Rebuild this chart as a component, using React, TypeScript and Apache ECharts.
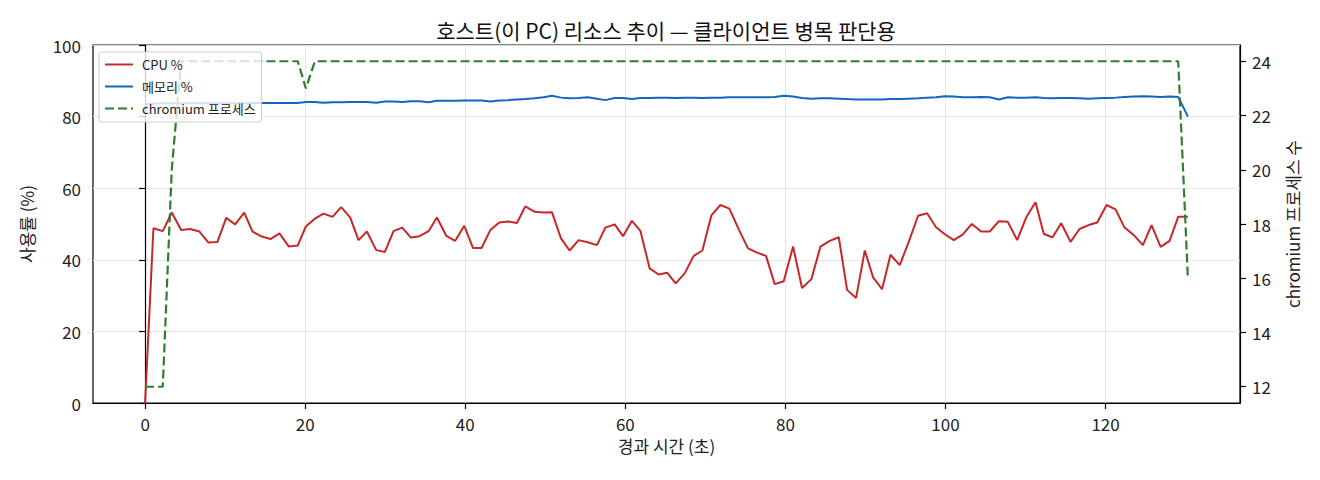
import { useEffect, useRef } from "react";
import * as echarts from "echarts";

const FONT = '"Noto Sans CJK KR", "Noto Sans", sans-serif';

// sample times (s)
const elapsedSec = [
  0, 1.04, 2.21, 3.33, 4.5, 5.63, 6.79, 7.92, 9.04, 10.13,
  11.25, 12.38, 13.42, 14.58, 15.67, 16.79, 17.96, 19.08, 20.08, 21.21,
  22.29, 23.42, 24.5, 25.63, 26.67, 27.71, 28.88, 29.96, 31.04, 32.13,
  33.21, 34.29, 35.42, 36.46, 37.63, 38.75, 39.88, 40.96, 42.04, 43.13,
  44.25, 45.29, 46.46, 47.5, 48.67, 49.79, 50.83, 51.96, 53.04, 54.17,
  55.29, 56.46, 57.5, 58.67, 59.71, 60.83, 61.88, 63.04, 64.17, 65.21,
  66.29, 67.42, 68.54, 69.63, 70.75, 71.88, 73.0, 74.17, 75.33, 76.46,
  77.58, 78.67, 79.79, 80.96, 82.08, 83.25, 84.38, 85.54, 86.67, 87.71,
  88.83, 89.92, 90.96, 92.08, 93.13, 94.29, 95.42, 96.58, 97.71, 98.83,
  99.88, 101.04, 102.17, 103.29, 104.46, 105.54, 106.67, 107.79, 108.96, 110.08,
  111.25, 112.29, 113.38, 114.46, 115.63, 116.75, 117.88, 118.96, 120.13, 121.25,
  122.38, 123.54, 124.67, 125.75, 126.88, 128.0, 129.08, 130.29,
];

const cpuPct = [
  0, 48.8, 48.0, 53.2, 48.3, 48.6, 47.9, 44.8, 45.0, 51.7,
  49.9, 53.2, 47.9, 46.5, 45.8, 47.4, 43.7, 44.0, 49.3, 51.5,
  52.9, 52.0, 54.7, 51.8, 45.5, 47.9, 42.7, 42.2, 48.0, 49.0,
  46.2, 46.6, 48.0, 51.8, 46.7, 45.3, 49.5, 43.3, 43.3, 48.3,
  50.4, 50.7, 50.3, 54.9, 53.4, 53.2, 53.3, 46.0, 42.6, 45.5,
  44.9, 44.1, 49.0, 49.9, 46.6, 50.9, 48.1, 37.6, 35.9, 36.4,
  33.4, 36.2, 41.1, 42.6, 52.4, 55.3, 54.3, 48.5, 43.2, 42.0,
  41.1, 33.2, 34.0, 43.7, 32.1, 34.6, 43.7, 45.3, 46.3, 31.6,
  29.3, 42.6, 35.1, 31.8, 41.4, 38.5, 45.1, 52.3, 53.0, 49.1,
  47.2, 45.5, 47.1, 50.0, 47.9, 47.9, 50.8, 50.6, 45.5, 51.8,
  56.1, 47.2, 46.3, 50.2, 45.0, 48.6, 49.7, 50.4, 55.3, 54.1,
  49.0, 46.9, 44.1, 49.7, 43.6, 45.3, 52.0, 52.0,
];

const memPct = [
  83.5, 83.6, 83.7, 83.7, 83.7, 83.7, 83.7, 83.7, 83.7, 83.7,
  83.7, 83.7, 83.8, 83.8, 83.8, 83.8, 83.8, 83.8, 84.1, 84.1,
  83.9, 84.0, 84.0, 84.1, 84.1, 84.1, 83.9, 84.2, 84.2, 84.1,
  84.3, 84.3, 84.0, 84.4, 84.4, 84.4, 84.5, 84.5, 84.5, 84.2,
  84.5, 84.6, 84.8, 84.9, 85.1, 85.4, 85.8, 85.3, 85.1, 85.2,
  85.4, 85.0, 84.6, 85.2, 85.2, 84.9, 85.2, 85.2, 85.3, 85.3,
  85.2, 85.3, 85.3, 85.2, 85.3, 85.3, 85.4, 85.4, 85.4, 85.4,
  85.4, 85.5, 85.8, 85.6, 85.2, 85.0, 85.1, 85.1, 85.0, 84.9,
  84.8, 84.8, 84.8, 84.8, 84.9, 84.9, 85.0, 85.1, 85.3, 85.4,
  85.7, 85.6, 85.4, 85.4, 85.5, 85.4, 84.8, 85.4, 85.3, 85.3,
  85.4, 85.2, 85.1, 85.2, 85.2, 85.1, 85.0, 85.1, 85.2, 85.3,
  85.5, 85.6, 85.7, 85.6, 85.5, 85.6, 85.5, 80.0,
];

const chromiumProcs = [
  12, 12, 12, 20, 24, 24, 24, 24, 24, 24,
  24, 24, 24, 24, 24, 24, 24, 24, 23, 24,
  24, 24, 24, 24, 24, 24, 24, 24, 24, 24,
  24, 24, 24, 24, 24, 24, 24, 24, 24, 24,
  24, 24, 24, 24, 24, 24, 24, 24, 24, 24,
  24, 24, 24, 24, 24, 24, 24, 24, 24, 24,
  24, 24, 24, 24, 24, 24, 24, 24, 24, 24,
  24, 24, 24, 24, 24, 24, 24, 24, 24, 24,
  24, 24, 24, 24, 24, 24, 24, 24, 24, 24,
  24, 24, 24, 24, 24, 24, 24, 24, 24, 24,
  24, 24, 24, 24, 24, 24, 24, 24, 24, 24,
  24, 24, 24, 24, 24, 24, 24, 16,
];

const xTicks = [0, 20, 40, 60, 80, 100, 120];
const procTicks = [12, 14, 16, 18, 20, 22, 24];

const pair = (ys: number[]) => elapsedSec.map((t, i) => [t, ys[i]]);

export default function App() {
  const ref = useRef<HTMLDivElement>(null);

  useEffect(() => {
    const el = ref.current;
    if (!el) return;
    const chart = echarts.init(el, undefined, { renderer: "svg" });
    const tickText = { color: "#222", fontSize: 17, lineHeight: 14, fontFamily: FONT };
    const nameText = { color: "#222", fontSize: 17, lineHeight: 18, fontFamily: FONT };
    const axisLine = { show: true, lineStyle: { color: "#000", width: 1.2 } };
    const axisTick = { show: true, length: 6, lineStyle: { color: "#000", width: 1.2 } };
    const grid = { show: true, lineStyle: { color: "#e4e4e4", width: 0.9 } };
    chart.setOption({
      animation: false,
      backgroundColor: "#fff",
      textStyle: { fontFamily: FONT },
      title: {
        text: "호스트(이 PC) 리소스 추이 — 클라이언트 병목 판단용",
        left: 666,
        textAlign: "center",
        top: 19,
        padding: 0,
        textStyle: { fontSize: 21, fontWeight: "normal", color: "#111", fontFamily: FONT },
      },
      grid: {
        left: 93,
        right: 80,
        top: 45,
        bottom: 77,
        show: true,
        borderColor: "#000",
        borderWidth: 1.2,
      },
      legend: {
        orient: "vertical",
        left: 99,
        top: 52,
        padding: [6, 6, 7, 5],
        itemWidth: 28,
        itemHeight: 14,
        itemGap: 9,
        backgroundColor: "rgba(255,255,255,0.8)",
        borderColor: "#cccccc",
        borderWidth: 1,
        borderRadius: 3,
        itemStyle: { opacity: 0 },
        textStyle: { fontSize: 13, color: "#222", fontFamily: FONT, padding: [0, 0, 0, 4] },
        data: ["CPU %", "메모리 %", "chromium 프로세스"],
      },
      xAxis: {
        type: "value",
        min: -6.51,
        max: 136.8,
        name: "경과 시간 (초)",
        nameLocation: "middle",
        nameGap: 28,
        nameTextStyle: nameText,
        axisLine,
        axisTick: { ...axisTick, customValues: xTicks },
        axisLabel: { ...tickText, margin: 13, customValues: xTicks },
        splitLine: grid,
      },
      yAxis: [
        {
          type: "value",
          min: 0,
          max: 100,
          interval: 20,
          name: "사용률 (%)",
          nameLocation: "middle",
          nameRotate: 90,
          nameGap: 58,
          nameTextStyle: nameText,
          axisLine,
          axisTick,
          axisLabel: { ...tickText, margin: 12 },
          splitLine: grid,
        },
        {
          type: "value",
          position: "right",
          min: 11.4,
          max: 24.6,
          name: "chromium 프로세스 수",
          nameLocation: "middle",
          nameRotate: 90,
          nameGap: 43,
          nameTextStyle: nameText,
          axisLine,
          axisTick: { ...axisTick, customValues: procTicks },
          axisLabel: { ...tickText, margin: 12, customValues: procTicks },
          splitLine: { show: false },
        },
      ],
      series: [
        {
          name: "CPU %",
          type: "line",
          data: pair(cpuPct),
          symbol: "none",
          lineStyle: { color: "#c62828", width: 2 },
          itemStyle: { color: "#c62828" },
        },
        {
          name: "메모리 %",
          type: "line",
          data: pair(memPct),
          symbol: "none",
          lineStyle: { color: "#1565c0", width: 2 },
          itemStyle: { color: "#1565c0" },
        },
        {
          name: "chromium 프로세스",
          type: "line",
          yAxisIndex: 1,
          data: pair(chromiumProcs),
          symbol: "none",
          lineStyle: { color: "#2e7d32", width: 2.2, type: [9, 4] },
          itemStyle: { color: "#2e7d32" },
        },
      ],
    });
    return () => chart.dispose();
  }, []);

  return (
    <div
      ref={ref}
      style={{ position: "fixed", left: 0, top: 0, width: 1320, height: 480, background: "#fff" }}
    />
  );
}
